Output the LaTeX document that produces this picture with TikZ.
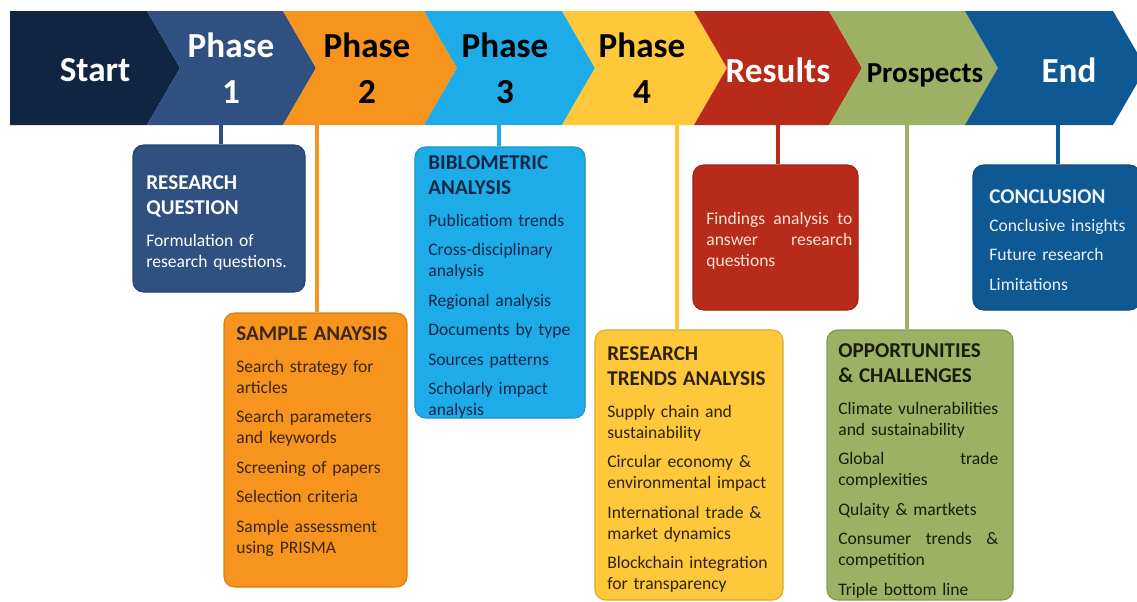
\documentclass[tikz,border=0pt]{standalone}
\usepackage{fontspec}
\setmainfont{Carlito}
\usetikzlibrary{positioning,fit}

\definecolor{startcolor}{RGB}{16,37,66}
\definecolor{phaseonecolor}{RGB}{47,80,128}
\definecolor{phasetwocolor}{RGB}{247,148,29}
\definecolor{phasethreecolor}{RGB}{29,172,232}
\definecolor{phasefourcolor}{RGB}{255,199,58}
\definecolor{resultscolor}{RGB}{184,42,26}
\definecolor{prospectscolor}{RGB}{157,177,100}
\definecolor{endcolor}{RGB}{14,88,147}

\tikzset{
    bannerlabel/.style={
        align=center, inner sep=0pt,
        font=\fontsize{20}{26}\selectfont\bfseries,
    },
    panel/.style={
        fill=#1, draw=#1!85!black, line width=0.6pt,
        rounded corners=6pt, inner sep=0pt,
    },
    paneltext/.style={
        anchor=north west, inner sep=0pt, align=left,
        font=\fontsize{10}{12}\selectfont,
    },
    link/.style={draw=#1, line width=2.5pt},
}
% one arrow-shaped segment of the top band
\newcommand{\chevron}[3]{%
    \fill[#3] (#1,11) -- (#2,11) -- ({#2+33},68) -- (#2,125) -- (#1,125) -- ({#1+33},68) -- cycle;}
\newcommand{\headline}[1]{{\fontsize{12}{14}\selectfont\bfseries #1}}
\newcommand{\headgap}{\\[6.2pt]}
\newcommand{\nextitem}{\\[4.8pt]}

\begin{document}
\begin{tikzpicture}[x=0.02cm, y=-0.02cm]
    \useasboundingbox (0,0) rectangle (1137,602);

    % band
    \fill[startcolor] (10,11) -- (147,11) -- (180,68) -- (147,125) -- (10,125) -- cycle;
    \chevron{147}{283}{phaseonecolor}
    \chevron{283}{424}{phasetwocolor}
    \chevron{424}{562}{phasethreecolor}
    \chevron{562}{694}{phasefourcolor}
    \chevron{694}{829}{resultscolor}
    \chevron{829}{965}{prospectscolor}
    \chevron{965}{1113}{endcolor}

    \node[bannerlabel, text=white] (start) at (95,70) {Start};
    \node[bannerlabel, text=white] (phase1) at (231,68) {Phase\\1};
    \node[bannerlabel] (phase2) at (367,68) {Phase\\2};
    \node[bannerlabel] (phase3) at (505,68) {Phase\\3};
    \node[bannerlabel] (phase4) at (642,68) {Phase\\4};
    \node[bannerlabel, text=white] (results) at (778,70) {Results};
    \node[bannerlabel, font=\fontsize{16.5}{20}\selectfont\bfseries] (prospects) at (925,75) {Prospects};
    \node[bannerlabel, text=white] (end) at (1069,70) {End};

    % boxes under the band
    \node[panel=phaseonecolor, fit={(133,145) (305,292)}] (q1box) {};
    \node[panel=phasetwocolor, fit={(224,313) (407,587)}] (q2box) {};
    \node[panel=phasethreecolor, fit={(415,147) (585,418)}] (q3box) {};
    \node[panel=phasefourcolor, fit={(595,330) (783,600)}] (q4box) {};
    \node[panel=resultscolor, fit={(693,165) (858,310)}] (q5box) {};
    \node[panel=prospectscolor, fit={(827,330) (1013,600)}] (q6box) {};
    \node[panel=endcolor, fit={(973,165) (1140,310)}] (q7box) {};

    % drop lines
    \coordinate (c1) at (221,125);
    \coordinate (c2) at (317,125);
    \coordinate (c3) at (499,125);
    \coordinate (c4) at (677,125);
    \coordinate (c5) at (778,125);
    \coordinate (c6) at (907,125);
    \coordinate (c7) at (1058,125);
    \draw[link=phaseonecolor] (c1) -- (c1 |- q1box.north);
    \draw[link=phasetwocolor] (c2) -- (c2 |- q2box.north);
    \draw[link=phasethreecolor] (c3) -- (c3 |- q3box.north);
    \draw[link=phasefourcolor] (c4) -- (c4 |- q4box.north);
    \draw[link=resultscolor] (c5) -- (c5 |- q5box.north);
    \draw[link=prospectscolor] (c6) -- (c6 |- q6box.north);
    \draw[link=endcolor] (c7) -- (c7 |- q7box.north);

    % box contents
    \node[paneltext, text=white, text width=3cm] (q1txt) at (146,175)
        {\headline{RESEARCH}\\[2.2pt]\headline{QUESTION}\headgap
         Formulation of\\research questions.};
    \node[paneltext, text={rgb,255:red,60;green,38;blue,20}, text width=3.3cm] (q2txt) at (236,326)
        {\headline{SAMPLE ANAYSIS}\headgap
         Search strategy for\\articles\nextitem
         Search parameters\\and keywords\nextitem
         Screening of papers\nextitem
         Selection criteria\nextitem
         Sample assessment\\using PRISMA};
    \node[paneltext, text={rgb,255:red,16;green,38;blue,70}, text width=3.1cm] (q3txt) at (428,155)
        {\headline{BIBLOMETRIC}\\[2.2pt]\headline{ANALYSIS}\headgap
         Publicatiom trends\nextitem
         Cross-disciplinary\\analysis\nextitem
         Regional analysis\nextitem
         Documents by type\nextitem
         Sources patterns\nextitem
         Scholarly impact\\analysis};
    \node[paneltext, text={rgb,255:red,45;green,35;blue,12}, text width=3.4cm] (q4txt) at (607,346)
        {\headline{RESEARCH}\\[2.2pt]\headline{TRENDS ANALYSIS}\headgap
         Supply chain and\\sustainability\nextitem
         Circular economy \&\\environmental impact\nextitem
         International trade \&\\market dynamics\nextitem
         Blockchain integration\\for transparency};
    \node[paneltext, text={rgb,255:red,252;green,228;blue,214}, text width=2.92cm] (q5txt) at (706,212)
        {Findings\hfill analysis\hfill to\\answer\hfill research\\questions};
    \node[paneltext, text={rgb,255:red,25;green,28;blue,12}, text width=3.2cm] (q6txt) at (838,343)
        {\headline{OPPORTUNITIES}\\[2.2pt]\headline{\& CHALLENGES}\headgap
         Climate\hfill vulnerabilities\\and sustainability\nextitem
         Global\hfill trade\\complexities\nextitem
         Qulaity \& martkets\nextitem
         Consumer\hfill trends\hfill \&\\competition\nextitem
         Triple bottom line};
    \node[paneltext, text={rgb,255:red,235;green,242;blue,250}, text width=2.9cm] (q7txt) at (989,189)
        {\headline{CONCLUSION}\\[4pt]
         Conclusive insights\nextitem
         Future research\nextitem
         Limitations};
\end{tikzpicture}
\end{document}
